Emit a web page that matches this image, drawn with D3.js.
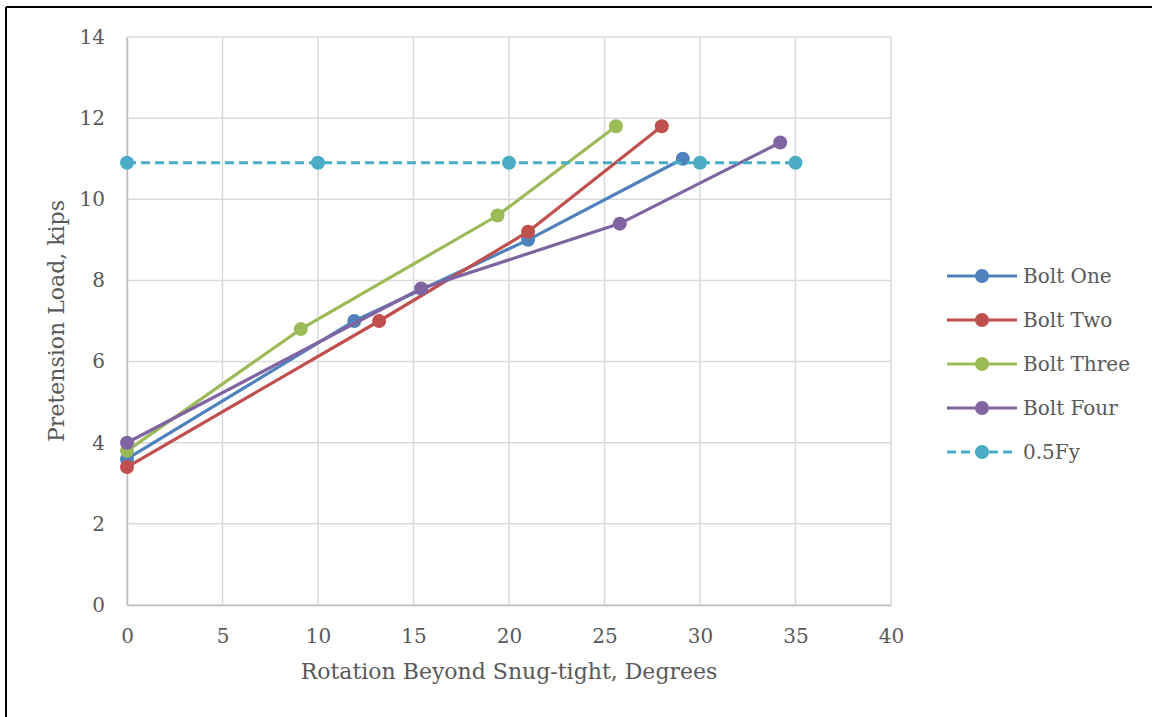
<!DOCTYPE html>
<html>
<head>
<meta charset="utf-8">
<script src="https://d3js.org/d3.v7.min.js"></script>
<style>
  html, body { margin: 0; padding: 0; background: #fff; }
  svg { display: block; }
  text { font-family: "DejaVu Serif", "Liberation Serif", serif; fill: #595959; }
</style>
</head>
<body>
<script>
// ---- data ----
const seriesNames = ["Bolt One", "Bolt Two", "Bolt Three", "Bolt Four", "0.5Fy"];
const seriesColors = ["#4f81bd", "#c0504d", "#9bbb59", "#8064a2", "#4bacc6"];
const boltOneX = [0, 11.9, 21.0, 29.1];
const boltOneY = [3.6, 7.0, 9.0, 11.0];
const boltTwoX = [0, 13.2, 21.0, 28.0];
const boltTwoY = [3.4, 7.0, 9.2, 11.8];
const boltThreeX = [0, 9.1, 19.4, 25.6];
const boltThreeY = [3.8, 6.8, 9.6, 11.8];
const boltFourX = [0, 15.4, 25.8, 34.2];
const boltFourY = [4.0, 7.8, 9.4, 11.4];
const fyX = [0, 10, 20, 30, 35];
const fyY = [10.9, 10.9, 10.9, 10.9, 10.9];
const xTicks = [0, 5, 10, 15, 20, 25, 30, 35, 40];
const yTicks = [0, 2, 4, 6, 8, 10, 12, 14];
const xTitle = "Rotation Beyond Snug-tight, Degrees";
const yTitle = "Pretension Load, kips";

const seriesX = [boltOneX, boltTwoX, boltThreeX, boltFourX, fyX];
const seriesY = [boltOneY, boltTwoY, boltThreeY, boltFourY, fyY];
const dashed = [false, false, false, false, true];

const W = 1152, H = 717;
const svg = d3.select("body").append("svg").attr("width", W).attr("height", H);

// outer border (top and left visible)
svg.append("line").attr("x1", 6).attr("x2", W).attr("y1", 7).attr("y2", 7)
  .attr("stroke", "#000").attr("stroke-width", 2);
svg.append("line").attr("x1", 6).attr("x2", 6).attr("y1", 7).attr("y2", H)
  .attr("stroke", "#000").attr("stroke-width", 2);

const x = d3.scaleLinear().domain([0, 40]).range([127, 891]);
const y = d3.scaleLinear().domain([0, 14]).range([605, 37]);

// gridlines
const grid = svg.append("g");
grid.selectAll(".vg").data(xTicks).join("line")
  .attr("x1", d => x(d)).attr("x2", d => x(d))
  .attr("y1", y(0)).attr("y2", y(14))
  .attr("stroke", "#d9d9d9").attr("stroke-width", 1.5);
grid.selectAll(".hg").data(yTicks).join("line")
  .attr("x1", x(0)).attr("x2", x(40))
  .attr("y1", d => y(d)).attr("y2", d => y(d))
  .attr("stroke", "#d9d9d9").attr("stroke-width", 1.5);

// axes
const xAxis = svg.append("g").attr("transform", `translate(0,${y(0)})`)
  .call(d3.axisBottom(x).tickValues(xTicks).tickSize(0).tickPadding(24).tickFormat(d3.format("d")));
xAxis.select(".domain").attr("stroke", "#bfbfbf").attr("stroke-width", 1.5);
xAxis.selectAll("text").style("font-size", "20px").attr("fill", "#595959");

const yAxis = svg.append("g").attr("transform", `translate(${x(0)},0)`)
  .call(d3.axisLeft(y).tickValues(yTicks).tickSize(0).tickPadding(22).tickFormat(d3.format("d")));
yAxis.select(".domain").attr("stroke", "#bfbfbf").attr("stroke-width", 1.5);
yAxis.selectAll("text").style("font-size", "20px").attr("fill", "#595959");

// titles
svg.append("text").attr("x", 509).attr("y", 679).attr("text-anchor", "middle")
  .style("font-size", "22px").text(xTitle);
svg.append("text").attr("transform", "translate(64,321) rotate(-90)")
  .attr("text-anchor", "middle").style("font-size", "22px").text(yTitle);

// series
const line = d3.line().x(d => x(d[0])).y(d => y(d[1]));
seriesNames.forEach((name, i) => {
  const pts = seriesX[i].map((xv, j) => [xv, seriesY[i][j]]);
  const g = svg.append("g");
  g.append("path").datum(pts).attr("d", line)
    .attr("fill", "none").attr("stroke", seriesColors[i]).attr("stroke-width", 3.2)
    .attr("stroke-dasharray", dashed[i] ? "9,5" : null);
  g.selectAll("circle").data(pts).join("circle")
    .attr("cx", d => x(d[0])).attr("cy", d => y(d[1])).attr("r", 7)
    .attr("fill", seriesColors[i]);
});

// legend
const legend = svg.append("g");
const legY = d3.scalePoint().domain(seriesNames).range([276, 452]);
seriesNames.forEach((name, i) => {
  const yy = legY(name);
  legend.append("line").attr("x1", 947).attr("x2", 1017).attr("y1", yy).attr("y2", yy)
    .attr("stroke", seriesColors[i]).attr("stroke-width", 3.2)
    .attr("stroke-dasharray", dashed[i] ? "9,5" : null);
  legend.append("circle").attr("cx", 982).attr("cy", yy).attr("r", 7).attr("fill", seriesColors[i]);
  legend.append("text").attr("x", 1023).attr("y", yy).attr("dy", "0.35em")
    .style("font-size", "20px").text(name);
});
</script>
</body>
</html>
